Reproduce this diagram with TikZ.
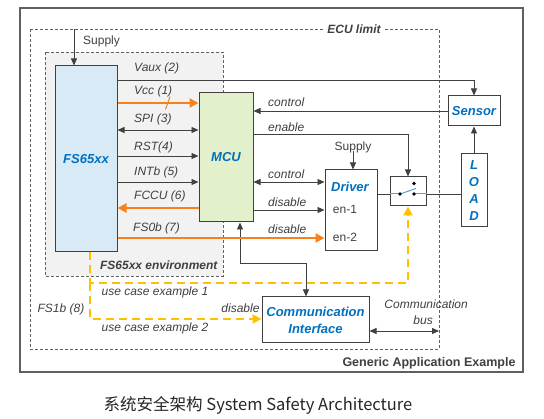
\documentclass[tikz,border=0pt]{standalone}
\usepackage{fontspec}
\setmainfont{Liberation Sans}
\newfontfamily\cjkfont{Noto Sans CJK SC}
\usepackage{xcolor}
\usepackage{tikz}
\usetikzlibrary{arrows.meta}

\definecolor{linegray}{HTML}{404040}
\definecolor{framegray}{HTML}{606060}
\definecolor{fsblue}{HTML}{D7EAF5}
\definecolor{mcugreen}{HTML}{E2F0CB}
\definecolor{envgray}{HTML}{F2F2F2}
\definecolor{nxpblue}{HTML}{0070C0}
\definecolor{sigorange}{HTML}{F7821B}
\definecolor{useyellow}{HTML}{FFC000}
\definecolor{swblue}{HTML}{5BA3C9}

\begin{document}
\begin{tikzpicture}[x=1pt, y=-1pt,
    blk/.style={draw=linegray, line width=1pt, inner sep=0pt},
    title/.style={font=\fontsize{13}{17}\selectfont\bfseries\itshape, text=nxpblue},
    lbl/.style={font=\fontsize{12}{14}\selectfont\itshape, text=linegray, inner sep=0pt},
    plain/.style={font=\fontsize{12}{14}\selectfont, text=linegray, inner sep=0pt},
    wire/.style={draw=linegray, line width=0.9pt},
    sig/.style={wire, -{Triangle[length=7pt,width=6pt]}},
    bisig/.style={wire, {Triangle[length=7pt,width=6pt]}-{Triangle[length=7pt,width=6pt]}},
    hot/.style={draw=sigorange, line width=2.6pt},
    hotsig/.style={hot, -{Triangle[length=9pt,width=9pt]}},
    yel/.style={draw=useyellow, line width=2.4pt, dash pattern=on 8pt off 5pt, -{Triangle[length=9pt,width=9pt]}},
    limit/.style={draw=framegray, line width=0.9pt, dash pattern=on 3pt off 2pt}]

            \useasboundingbox (0,0) rectangle (544,419);
            \fill[white] (0,0) rectangle (544,419);

            \draw[draw=framegray, line width=1.2pt] (20,8) rectangle (523,372);
            \draw[limit] (30,29) rectangle (439,349);
            \draw[limit, fill=envgray] (45,52) rectangle (223,276);

            \node[font=\fontsize{12}{14}\selectfont\bfseries\itshape, text=linegray, fill=white, inner sep=3pt] (eculbl) at (354,29) {ECU limit};
            \node[font=\fontsize{12.5}{14}\selectfont\bfseries, text=linegray, anchor=east] (genlbl) at (519,363) {Generic Application Example};
            \node[font=\fontsize{12}{14}\selectfont\bfseries\itshape, text=linegray, anchor=east] (envlbl) at (221,265) {FS65xx environment};

            \node[blk, title, fill=fsblue, minimum width=62pt, minimum height=186pt] (fs) at (86,159) {FS65xx};
            \node[blk, title, fill=mcugreen, minimum width=54pt, minimum height=129pt] (mcu) at (226,157.5) {MCU};
            \node[blk, title, fill=white, minimum width=52pt, minimum height=30pt] (sensor) at (474,111) {Sensor};
            \node[blk, fill=white, minimum width=52pt, minimum height=81pt] (driver) at (351,210.5) {};
            \node[blk, fill=white, minimum width=36pt, minimum height=29pt] (sw) at (408,191.5) {};
            \node[blk, title, fill=white, align=center, minimum width=26pt, minimum height=73pt] (load) at (474,190.5) {L\\O\\A\\D};
            \node[blk, title, fill=white, align=center, minimum width=107pt, minimum height=46pt] (comm) at (315.5,320) {Communication\\Interface};

            \node[title] (drvlbl) at (350,187) {Driver};
            \node[plain] (en1) at (345,209) {en-1};
            \node[plain] (en2) at (345,237) {en-2};

            \coordinate (yVaux) at (0,80);
            \coordinate (yVcc) at (0,103);
            \coordinate (ySpi) at (0,130);
            \coordinate (yRst) at (0,156);
            \coordinate (yInt) at (0,182);
            \coordinate (yFccu) at (0,208);
            \coordinate (yFs0) at (0,238);
            \coordinate (yEn) at (0,134);
            \coordinate (yDis) at (0,210);
            \coordinate (wy) at (0,194);

            \node[plain, anchor=west] (supply) at (83,41) {Supply};
            \coordinate (suptop) at (74,29);
            \draw[sig] (suptop) -- (suptop |- fs.north);

            \draw[sig] (fs.east |- yVaux) -| (sensor.north);
            \draw[hotsig] (fs.east |- yVcc) -- (mcu.west |- yVcc);
            \draw[draw=sigorange, line width=1pt] (165.5,109.5) -- (170,96.5);
            \draw[bisig] (fs.east |- ySpi) -- (mcu.west |- ySpi);
            \draw[sig] (fs.east |- yRst) -- (mcu.west |- yRst);
            \draw[sig] (fs.east |- yInt) -- (mcu.west |- yInt);
            \draw[hotsig] (mcu.west |- yFccu) -- (fs.east |- yFccu);

            \node[lbl, anchor=west] (vauxlbl) at (134,68) {Vaux (2)};
            \node[lbl, anchor=west] (vcclbl) at (134,91) {Vcc (1)};
            \node[lbl, anchor=west] (spilbl) at (134,119) {SPI (3)};
            \node[lbl, anchor=west] (rstlbl) at (134,147) {RST(4)};
            \node[lbl, anchor=west] (intlbl) at (134,172) {INTb (5)};
            \node[lbl, anchor=west] (fccululbl) at (134,196) {FCCU (6)};
            \node[lbl, anchor=west] (fs0lbl) at (133,228) {FS0b (7)};

            \draw[sig] (sensor.west) -- (sensor.west -| mcu.east);
            \draw[sig] (mcu.east |- yEn) -| (sw.north);
            \draw[bisig] (mcu.east |- yInt) -- (driver.west |- yInt);
            \draw[sig] (mcu.east |- yDis) -- (driver.west |- yDis);

            \node[lbl, anchor=west] (ctl1lbl) at (268,102) {control};
            \node[lbl, anchor=west] (enlbl) at (268,127) {enable};
            \node[lbl, anchor=west] (ctl2lbl) at (268,174) {control};
            \node[lbl, anchor=west] (dis1lbl) at (268,202) {disable};
            \node[lbl, anchor=west] (dis2lbl) at (268,229) {disable};

            \node[plain] (dsupply) at (353,147) {Supply};
            \draw[sig] ([yshift=2pt]dsupply.south) -- (dsupply.south |- driver.north);

            \draw[wire] (driver.east |- wy) -- (sw.west |- wy);
            \draw[draw=swblue, line width=1pt] (sw.west |- wy) -- (400,194);
            \draw[draw=swblue, line width=1pt] (400,194) -- (416,188.5);
            \draw[draw=swblue, line width=1pt] (414,194) -- (sw.east |- wy);
            \fill[black] (400,194) circle (1.8pt) (414,183.5) circle (1.8pt) (414,194) circle (1.8pt);
            \draw[wire] (sw.east |- wy) -- (load.west |- wy);
            \draw[sig] (load.north) -- (load.north |- sensor.south);

            \coordinate (mcub) at (240,263);
            \coordinate (comb) at (306,263);
            \draw[bisig] (mcub |- mcu.south) -- (mcub) -- (comb) -- (comb |- comm.north);
            \draw[hotsig] (fs.east |- yFs0) -- (driver.west |- yFs0);

            \coordinate (busend) at (439,331);
            \draw[bisig] (busend -| comm.east) -- (busend);
            \node[lbl, anchor=east] (buslbl1) at (468,304) {Communication};
            \node[lbl, anchor=east] (buslbl2) at (433,320) {bus};

            \coordinate (uc1) at (90,283);
            \coordinate (uc2) at (90,319);
            \draw[yel] (uc1 |- fs.south) -- (uc1) -| (sw.south);
            \draw[yel] (uc1) -- (uc2) -- (uc2 -| comm.west);

            \node[lbl] (uc1lbl) at (155,292) {use case example 1};
            \node[lbl] (uc2lbl) at (155,328) {use case example 2};
            \node[lbl] (fs1lbl) at (61,309) {FS1b (8)};
            \node[lbl] (dis3lbl) at (240.5,308) {disable};

            \node[font=\cjkfont\fontsize{16.5}{18}\selectfont, text=black!85] (caption) at (258,405) {系统安全架构 System Safety Architecture};
        \end{tikzpicture}
\end{document}
